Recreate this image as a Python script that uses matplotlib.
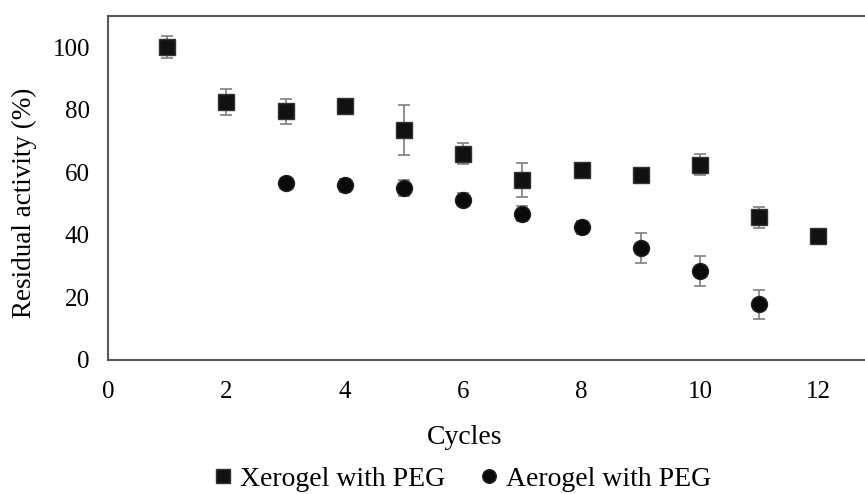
import matplotlib
matplotlib.use("Agg")
import matplotlib.pyplot as plt

plt.rcParams['font.family'] = ['Liberation Serif', 'DejaVu Serif']

cycles_xero = [1, 2, 3, 4, 5, 6, 7, 8, 9, 10, 11, 12]
xerogel = [100, 82.5, 79.6, 81.2, 73.7, 66.0, 57.5, 60.9, 59.3, 62.5, 45.6, 39.5]
xerogel_err = [3.5, 4.0, 4.0, 1.5, 8.0, 3.3, 5.5, 1.0, 1.0, 3.3, 3.3, 1.0]

cycles_aero = [3, 4, 5, 6, 7, 8, 9, 10, 11]
aerogel = [56.7, 55.8, 55.0, 51.3, 46.8, 42.4, 35.8, 28.5, 17.8]
aerogel_err = [1.5, 2.0, 2.5, 2.0, 2.5, 2.0, 4.7, 4.9, 4.7]

W, H = 865, 494
fig = plt.figure(figsize=(W / 100, H / 100), dpi=100)
# axes extends slightly past the right edge, like the cropped original
ax = fig.add_axes([108 / W, (H - 360) / H, (877.6 - 108) / W, (360 - 16) / H])

eb = dict(ecolor='#7f7f7f', elinewidth=1.2, capsize=4.5, capthick=1.2, linestyle='none')
ax.errorbar(cycles_xero, xerogel, yerr=xerogel_err, marker='s', markersize=11.5,
            markerfacecolor='#111111', markeredgecolor='#333333', label='Xerogel with PEG', **eb)
ax.errorbar(cycles_aero, aerogel, yerr=aerogel_err, marker='o', markersize=11.5,
            markerfacecolor='#0a0a0a', markeredgecolor='#222222', label='Aerogel with PEG', **eb)

ax.set_xlim(0, 13)
ax.set_ylim(0, 110)
ax.set_xticks([0, 2, 4, 6, 8, 10, 12])
ax.set_yticks([0, 20, 40, 60, 80, 100])
ax.tick_params(length=0, labelsize=18)
ax.tick_params(axis='x', pad=15)
ax.tick_params(axis='y', pad=13)
for s in ax.spines.values():
    s.set_color('#5a5a5a')
    s.set_linewidth(1.5)
ax.spines['right'].set_visible(False)

fig.text(24 / W, 1 - 203 / H, 'Residual activity (%)', fontsize=19.5,
         rotation=90, ha='center', va='center')
fig.text(465 / W, 1 - 437 / H, 'Cycles', fontsize=20, ha='center', va='center')

handles, labels = ax.get_legend_handles_labels()
handles = [h[0] for h in handles]
fig.legend(handles, labels, loc='center', bbox_to_anchor=(463 / W, 1 - 479 / H),
           ncol=2, frameon=False, fontsize=20, handlelength=0.6, handletextpad=0.3,
           columnspacing=1.3, markerscale=0.85)

fig.savefig('out.png', dpi=100)
